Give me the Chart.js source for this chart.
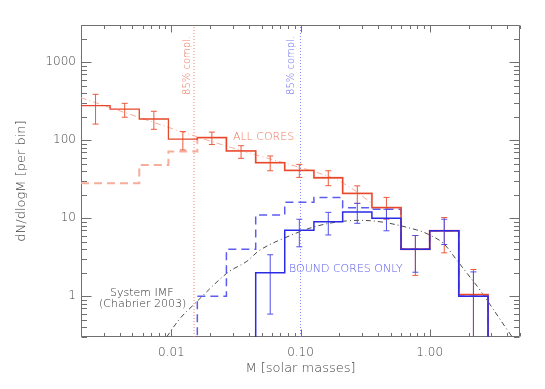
<!DOCTYPE html>
<html><head><meta charset="utf-8">
<script src="https://cdn.jsdelivr.net/npm/chart.js@4/dist/chart.umd.min.js"></script>
<style>html,body{margin:0;padding:0;background:#fff}canvas{display:block}</style>
</head><body>
<canvas id="c" width="545" height="389"></canvas>
<script>
// ---- data ----
const binEdges = [0.002, 0.00336, 0.00565, 0.0095, 0.0159, 0.0267, 0.045, 0.0755, 0.127, 0.212, 0.357, 0.6, 1.0, 1.68, 2.83];
const allCores      = [277, 250, 187, 103, 108, 73, 51.5, 41, 33, 20.8, 13.7, 4.0, 6.9, 1.05];
const allCoresHi    = [388, 297, 235, 129, 127, 85, 62.8, 49, 40.6, 26, 18.5, 6.0, 10.2, 2.2];
const allCoresLo    = [161, 197, 138, 75, 88, 58.6, 40.6, 33.4, 26.1, 15.5, 9.7, 1.85, 3.6, 0.1];
const allCoresFaint = [28, 28, 48, 71.5, 108, 73, 51.5, 41, 33, 20.8, 13.7, 4.0, 6.9, 1.05];
const boundCores    = [null, null, null, null, null, null, 2.0, 7.0, 9.0, 12.0, 10.0, 4.0, 6.9, 1.0];
const boundHi       = [null, null, null, null, null, null, 3.4, 9.7, 11.9, 15.5, 13.0, 6.0, 9.7, 2.05];
const boundLo       = [null, null, null, null, null, null, 0.59, 4.3, 6.1, 8.6, 6.9, 2.03, 4.6, 0.1];
const boundAll      = [null, null, null, null, 1.0, 4.0, 11.0, 16.0, 18.5, 13.6, 13.0, 4.0, 6.9, 1.0];
const imfMass  = [0.0092, 0.0117, 0.0148, 0.0269, 0.0384, 0.0485, 0.0736, 0.133, 0.241, 0.413, 0.79, 1.0, 1.27, 1.62, 1.93, 2.45, 4.18, 4.6];
const imfValue = [0.30, 0.52, 0.77, 1.97, 2.8, 3.9, 5.5, 7.9, 9.3, 9.0, 7.1, 6.1, 4.8, 2.9, 2.0, 1.2, 0.33, 0.27];
const fitMass  = [0.002, 0.0157, 0.041, 0.169, 0.25, 0.356];
const fitValue = [350, 111, 68, 34, 24, 15.5];
const complAll = 0.015;
const complBound = 0.1;
const xTicks = [0.01, 0.1, 1];
const yTicks = [1, 10, 100, 1000];
const xRange = [0.002, 5];
const yRange = [0.3, 3000];
const FLOOR = 0.01;

// ---- helpers building library data ----
function hist(values, floorStart) {
  const pts = [];
  let started = false;
  for (let i = 0; i < values.length; i++) {
    if (values[i] == null) continue;
    if (!started && floorStart) pts.push({x: binEdges[i], y: FLOOR});
    started = true;
    pts.push({x: binEdges[i], y: values[i]});
  }
  pts.push({x: binEdges[values.length], y: FLOOR});
  return pts;
}
function errs(lo, hi) {
  const pts = [];
  for (let i = 0; i < hi.length; i++) {
    if (hi[i] == null) continue;
    const c = Math.sqrt(binEdges[i] * binEdges[i + 1]);
    pts.push({x: c, y: lo[i]}, {x: c, y: hi[i]}, {x: c, y: null});
  }
  return pts;
}
function curve(xs, ys) { return xs.map((v, i) => ({x: v, y: ys[i]})); }
function vline(v) { return [{x: v, y: yRange[0]}, {x: v, y: yRange[1]}]; }

const RED = '#e8472b', PALE = '#f6ad9c', BLUE = '#2b2be6', BLUE_D = '#5c5cf0';
const AXIS = '#707070', TXT = '#444444';
const FW = '200';

Chart.defaults.font.family = "'DejaVu Sans', sans-serif";
Chart.defaults.font.weight = FW;

const frame = {
  id: 'frame',
  beforeDatasetsDraw(chart) {
    const {ctx, chartArea: a, scales: {x, y}} = chart;
    ctx.save();
    ctx.strokeStyle = AXIS; ctx.lineWidth = 1;
    const L = Math.round(a.left) + 0.5, R = Math.round(a.right) - 0.5;
    const T = Math.round(a.top) + 0.5, B = Math.round(a.bottom) - 0.5;
    ctx.beginPath();
    ctx.rect(L, T, R - L, B - T);
    for (let d = -3; d <= 1; d++) {
      for (let k = 1; k <= 9; k++) {
        const v = k * Math.pow(10, d);
        if (v < xRange[0] * 0.999 || v > xRange[1] * 1.001) continue;
        const px = Math.round(x.getPixelForValue(v)) + 0.5;
        const len = k === 1 ? 7 : 3.5;
        ctx.moveTo(px, B); ctx.lineTo(px, B - len);
        ctx.moveTo(px, T); ctx.lineTo(px, T + len);
      }
    }
    for (let d = -1; d <= 3; d++) {
      for (let k = 1; k <= 9; k++) {
        const v = k * Math.pow(10, d);
        if (v < yRange[0] * 0.999 || v > yRange[1] * 1.001) continue;
        const py = Math.round(y.getPixelForValue(v)) + 0.5;
        const len = k === 1 ? 10 : 5.5;
        ctx.moveTo(L, py); ctx.lineTo(L + len, py);
        ctx.moveTo(R, py); ctx.lineTo(R - len, py);
      }
    }
    ctx.stroke();
    ctx.restore();
  },
  afterDatasetsDraw(chart) {
    const {ctx, scales: {x, y}} = chart;
    ctx.save();
    ctx.textBaseline = 'middle';
    ctx.font = FW + " 11px 'DejaVu Sans'";
    ctx.textAlign = 'left';
    ctx.fillStyle = '#ee7a62';
    ctx.fillText('ALL CORES', x.getPixelForValue(0.030), y.getPixelForValue(110));
    ctx.fillStyle = '#5858ec';
    ctx.fillText('BOUND CORES ONLY', x.getPixelForValue(0.0815), y.getPixelForValue(2.23));
    ctx.textAlign = 'center';
    ctx.fillStyle = '#2e2e2e';
    ctx.fillText('System IMF', x.getPixelForValue(0.0059), y.getPixelForValue(1.08));
    ctx.fillText('(Chabrier 2003)', x.getPixelForValue(0.0060), y.getPixelForValue(0.80));
    ctx.font = FW + " 10px 'DejaVu Sans'";
    const rot = (txt, mx, vy, col) => {
      ctx.save();
      ctx.translate(x.getPixelForValue(mx), y.getPixelForValue(vy));
      ctx.rotate(-Math.PI / 2);
      ctx.fillStyle = col;
      ctx.fillText(txt, 0, 0);
      ctx.restore();
    };
    rot('85% compl.', 0.0134, 910, '#ec6e5a');
    rot('85% compl.', 0.0857, 910, '#6464ee');
    ctx.restore();
  }
};

const stepLine = (data, color, width, extra) => Object.assign({
  data, borderColor: color, borderWidth: width, stepped: 'before',
  pointRadius: 0, fill: false, tension: 0
}, extra || {});
const errLine = (data, color) => ({
  data, borderColor: color, borderWidth: 1, pointStyle: 'line', pointRadius: 3,
  pointBorderColor: color, pointBorderWidth: 1, pointHoverRadius: 0, spanGaps: false, fill: false
});

new Chart(document.getElementById('c'), {
  type: 'line',
  data: {
    datasets: [
      stepLine(hist(boundCores, true), BLUE, 1.5, {order: 1}),
      Object.assign(errLine(errs(boundLo, boundHi), '#5050ea'), {order: 2}),
      stepLine(hist(allCores, false), RED, 1.3, {order: 3}),
      Object.assign(errLine(errs(allCoresLo, allCoresHi), '#ee5a3c'), {order: 4}),
      stepLine(hist(boundAll, true), BLUE_D, 1.5, {order: 5, borderDash: [8, 5]}),
      stepLine(hist(allCoresFaint, false), PALE, 2, {order: 6,
        segment: {borderDash: c => c.p0DataIndex < 4 ? [8, 5] : undefined}}),
      {data: curve(fitMass, fitValue), borderColor: PALE, borderWidth: 1, borderDash: [6, 3, 1, 3],
        pointRadius: 0, tension: 0.3, order: 7},
      {data: curve(imfMass, imfValue), borderColor: '#4a4a4a', borderWidth: 1, borderDash: [5, 3, 1, 3],
        pointRadius: 0, tension: 0.35, order: 8},
      {data: vline(complAll), borderColor: '#f08070', borderWidth: 1, borderDash: [1, 2], pointRadius: 0, order: 9},
      {data: vline(complBound), borderColor: '#8a8af4', borderWidth: 1, borderDash: [1, 2], pointRadius: 0, order: 9}
    ]
  },
  options: {
    responsive: false, animation: false, events: [],
    layout: {padding: {top: 25, right: 25, left: 0, bottom: 0}},
    plugins: {legend: {display: false}, tooltip: {enabled: false}},
    scales: {
      x: {
        type: 'logarithmic', min: xRange[0], max: xRange[1],
        grid: {display: false, drawTicks: false, tickLength: 0}, border: {display: false},
        afterBuildTicks: s => { s.ticks = xTicks.map(v => ({value: v})); },
        afterFit: s => { s.height = 52; },
        ticks: {padding: 9, color: TXT, font: {size: 12, weight: FW}, maxRotation: 0, autoSkip: false,
          callback: v => Number(v).toFixed(2)},
        title: {display: true, text: 'M [solar masses]', color: TXT, font: {size: 13, weight: FW},
          padding: {top: 0, bottom: 13}}
      },
      y: {
        type: 'logarithmic', min: yRange[0], max: yRange[1],
        grid: {display: false, drawTicks: false, tickLength: 0}, border: {display: false},
        afterBuildTicks: s => { s.ticks = yTicks.map(v => ({value: v})); },
        afterFit: s => { s.width = 81; },
        ticks: {padding: 5, color: TXT, font: {size: 12, weight: FW}, autoSkip: false,
          callback: v => String(v)},
        title: {display: true, text: 'dN/dlogM [per bin]', color: TXT, font: {size: 13, weight: FW},
          padding: {top: 14, bottom: 0}}
      }
    }
  },
  plugins: [frame]
});
</script>
</body></html>
